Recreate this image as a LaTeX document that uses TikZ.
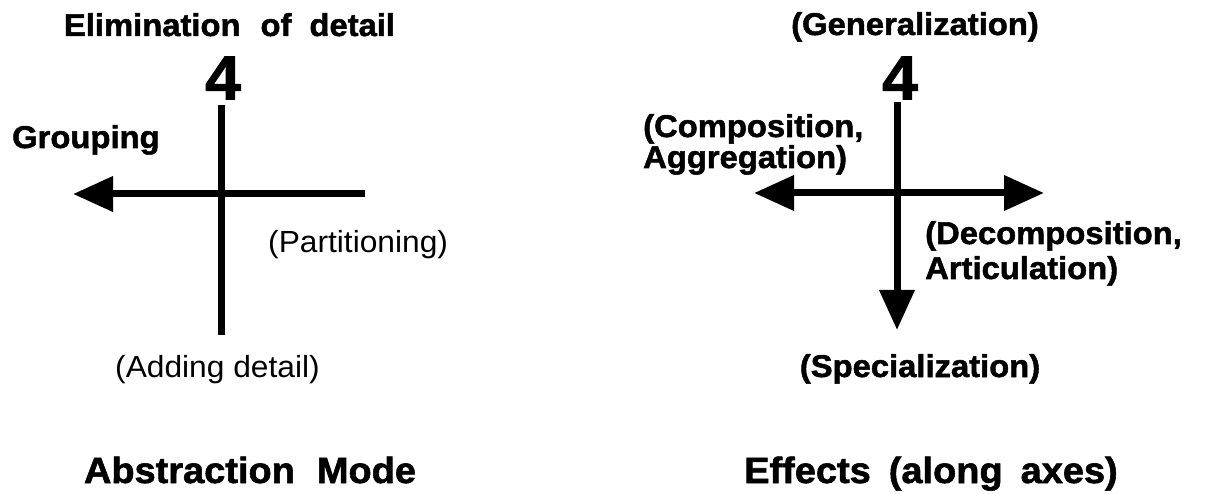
\documentclass[tikz,border=0pt]{standalone}
\usepackage{fontspec}
\setmainfont{Liberation Sans}[FakeStretch=1.04,BoldFeatures={FakeBold=1.6}]
\usetikzlibrary{arrows.meta}
\begin{document}
\begin{tikzpicture}[x=1pt,y=-1pt,
  axis/.style={line width=7pt,black},
  head/.style={-{Triangle[length=40pt,width=34pt]}},
  boldlbl/.style={font=\bfseries\fontsize{31.5}{31}\selectfont,inner sep=0pt},
  plainlbl/.style={font=\fontsize{30.5}{32}\selectfont,inner sep=0pt},
  titlelbl/.style={font=\bfseries\fontsize{36.5}{40}\selectfont,inner sep=0pt},
  digitlbl/.style={font=\bfseries\fontsize{62}{62}\selectfont,inner sep=0pt}]
\useasboundingbox (0,0) rectangle (1210,494);

% left cross: abstraction mode
\coordinate (lt) at (221,105);
\coordinate (lb) at (221,335);
\coordinate (lr) at (365,194);
\coordinate (ll) at (73,194);
\draw[axis] (lt) -- (lb);
\draw[axis,head] (lr) -- (ll);

\node[boldlbl,anchor=base] (elim) at (229.5,36) {Elimination\hspace{20pt}of\hspace{18pt}detail};
\node[digitlbl] (fourL) at (223,78) {4};
\node[boldlbl,anchor=base west] (grp) at (12,148) {Grouping};
\node[plainlbl,anchor=base west] (part) at (268,253) {(Partitioning)};
\node[plainlbl,anchor=base west] (add) at (115,377) {(Adding detail)};
\node[titlelbl,anchor=base] (absmode) at (250,483) {Abstraction\hspace{22pt}Mode};

% right cross: effects
\coordinate (rt) at (897,102);
\coordinate (rb) at (897,330);
\coordinate (rl) at (754,193);
\coordinate (rr) at (1044,193);
\draw[axis,head] (rt) -- (rb);
\draw[axis,{Triangle[length=40pt,width=34pt]}-{Triangle[length=40pt,width=34pt]}] (rl) -- (rr);

\node[boldlbl,anchor=base] (gen) at (915,35) {(Generalization)};
\node[digitlbl] (fourR) at (900,78) {4};
% the base anchor of a two-line node sits on its last line
\node[boldlbl,anchor=base west,align=left] (comp) at (643,168) {(Composition,\\Aggregation)};
\node[boldlbl,anchor=base west,align=left,font=\bfseries\fontsize{31.5}{35}\selectfont] (decomp) at (925,279) {(Decomposition,\\Articulation)};
\node[boldlbl,anchor=base] (spec) at (920,377) {(Specialization)};
\node[titlelbl,anchor=base] (effects) at (931,483) {Effects\hspace{18pt}(along\hspace{18pt}axes)};
\end{tikzpicture}
\end{document}
